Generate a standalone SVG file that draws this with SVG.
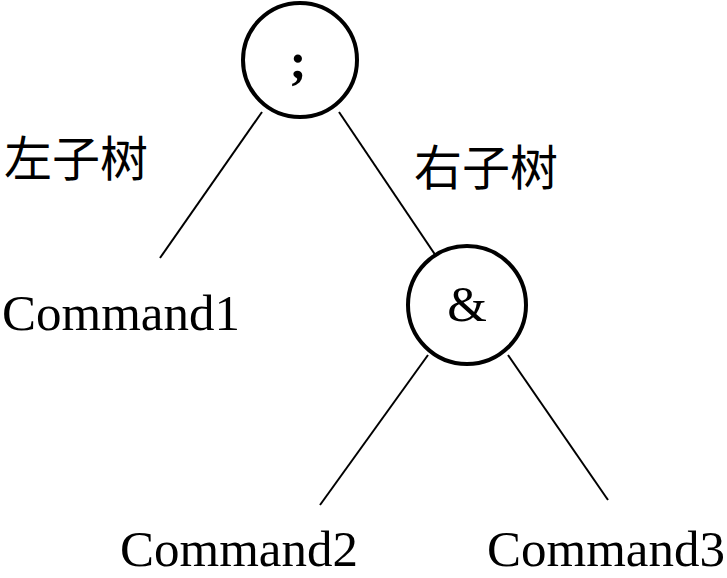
<svg xmlns="http://www.w3.org/2000/svg" width="727" height="578" viewBox="0 0 727 578">
<style>
.node{fill:#fff;stroke:#000;stroke-width:4}
.edge{stroke:#000;stroke-width:2;fill:none}
.lat{font-family:"Liberation Serif","Times New Roman",serif;font-size:51px;fill:#000}
.cjk{font-family:"Noto Sans CJK SC","Noto Sans CJK JP",sans-serif;font-size:48px;fill:#000}
</style>
<rect width="727" height="578" fill="#fff"/>
<g id="connectors">
<line class="edge" x1="262" y1="112" x2="160" y2="258"/>
<line class="edge" x1="339" y1="112" x2="436" y2="256"/>
<line class="edge" x1="428" y1="355" x2="320" y2="505"/>
<line class="edge" x1="508" y1="355" x2="608" y2="500"/>
</g>
<g id="root">
<circle class="node" cx="300" cy="60" r="57"/>
<text class="lat" x="298" y="78" text-anchor="middle" font-weight="bold">;</text>
</g>
<g id="amp">
<circle class="node" cx="467" cy="305" r="59"/>
<text class="lat" x="467" y="321" text-anchor="middle">&amp;</text>
</g>
<g id="cmd1"><text class="lat" x="2" y="330">Command1</text></g>
<g id="cmd2"><text class="lat" x="120" y="566">Command2</text></g>
<g id="cmd3"><text class="lat" x="487" y="566" font-size="50">Command3</text></g>
<g id="labels">
<text class="cjk" x="4" y="176">左子树</text>
<text class="cjk" x="414" y="185">右子树</text>
</g>
</svg>
